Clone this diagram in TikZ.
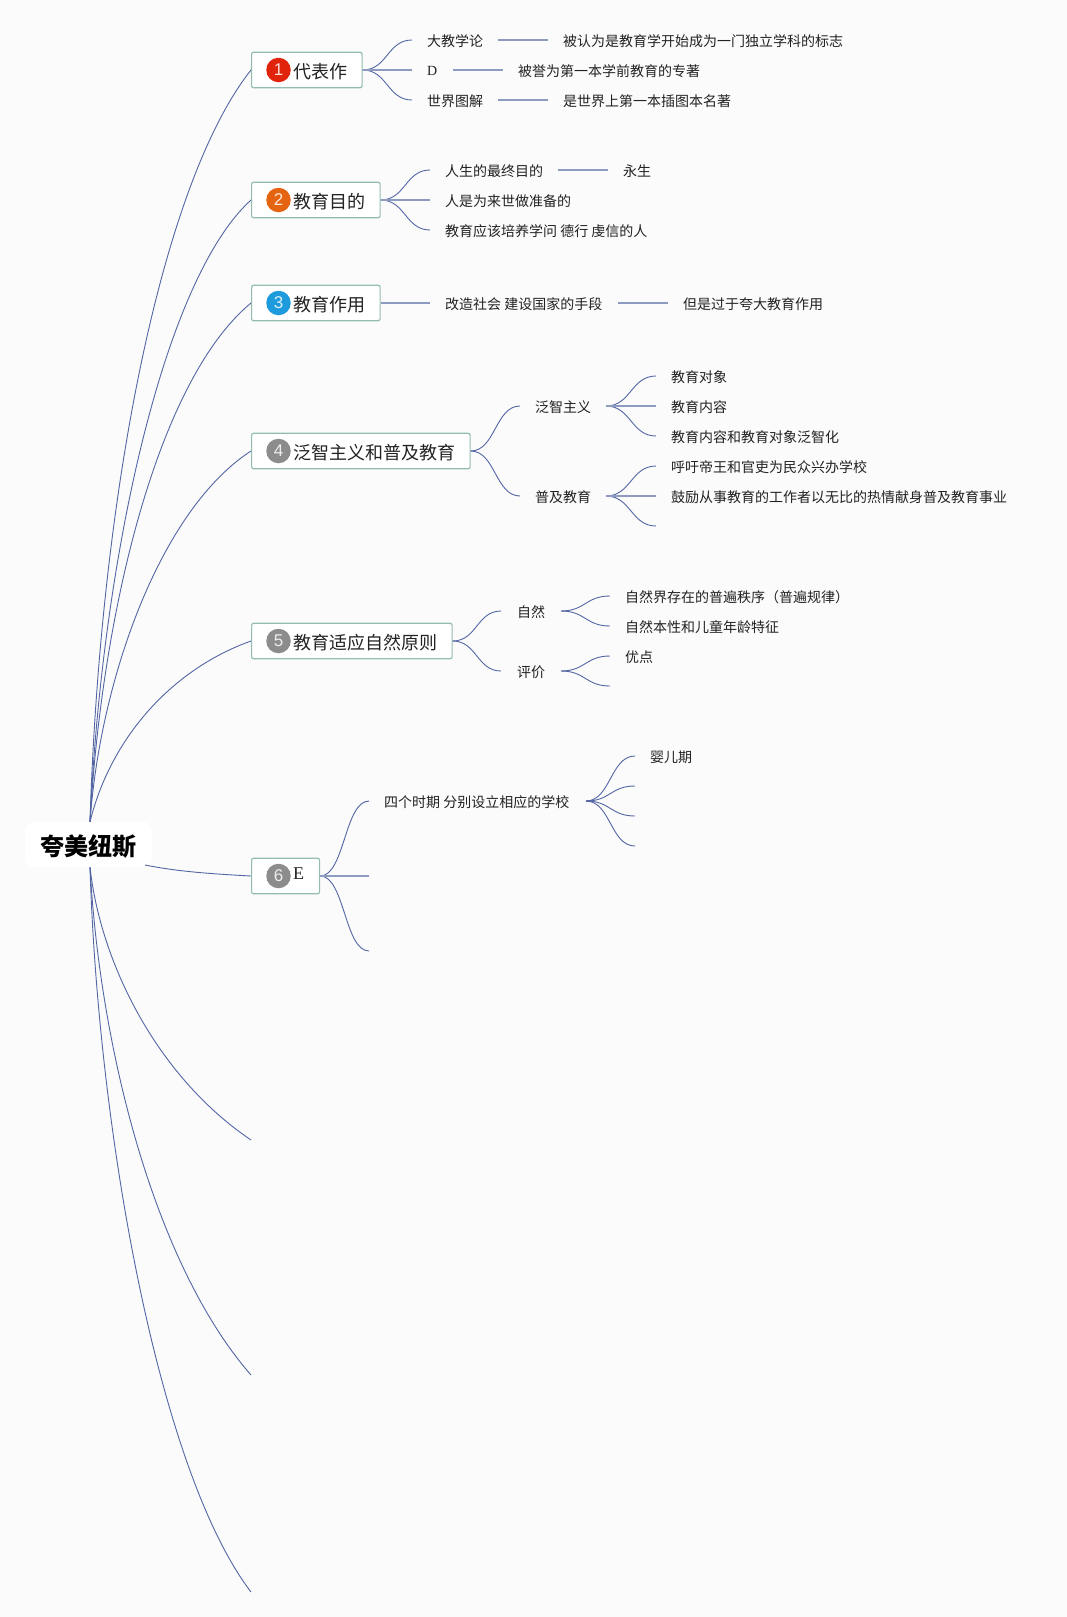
\documentclass[tikz,border=0pt]{standalone}
\usepackage{fontspec}
\usetikzlibrary{calc}
\setmainfont{Liberation Serif}
\newfontfamily\cjk{Noto Sans CJK SC}
\definecolor{bgc}{HTML}{FBFBFC}
\definecolor{linec}{HTML}{5366A3}
\definecolor{flatc}{HTML}{8E9BC0}
\definecolor{boxc}{HTML}{93BDAF}
\definecolor{txtc}{HTML}{222222}
\tikzset{
  topicbox/.style={draw=boxc,fill=white,line width=1.2pt,rounded corners=2pt,minimum height=35.5pt,inner sep=0pt,anchor=west},
  toptext/.style={font=\fontsize{18}{18}\selectfont\cjk,text=txtc,inner sep=0pt,anchor=west,yshift=-2pt},
  leaf/.style={font=\fontsize{14}{14}\selectfont\cjk,text=txtc,inner sep=0pt,anchor=west,yshift=-1.2pt},
  latin/.style={font=\fontsize{14}{14}\selectfont,text=txtc,inner sep=0pt,anchor=west,yshift=-1.2pt},
  badge/.style={circle,minimum size=24.5pt,inner sep=0pt,text=white,text opacity=0.85,font=\fontsize{17}{17}\selectfont\fontspec{Liberation Sans}},
  rootnode/.style={fill=white,rounded corners=9pt,minimum width=127pt,minimum height=45pt,inner sep=0pt,font=\fontsize{24}{24}\selectfont\cjk\bfseries,text=black},
  curve/.style={draw=linec,line width=0.9pt},
  flat/.style={draw=flatc,line width=1.2pt},
}
\newcommand{\scurve}[2]{\draw[curve] (#1) .. controls ($(#1)!0.5!(#2|-#1)$) and ($(#2)!0.5!(#1|-#2)$) .. (#2);}
\begin{document}
\begin{tikzpicture}[x=1pt,y=-1pt]
\useasboundingbox[fill=bgc] (0,0) rectangle (1067,1617);

% tips
\coordinate (rootT) at (90,822);
\coordinate (rootB) at (90,867);
\coordinate (rootE) at (145,865);
\coordinate (t7) at (251,1140);
\coordinate (t8) at (251,1375);
\coordinate (t9) at (251,1592);

% topic boxes
\node[topicbox,minimum width=110.5pt] (b1) at (251,70) {};
\node[topicbox,minimum width=128.5pt] (b2) at (251,200) {};
\node[topicbox,minimum width=128.5pt] (b3) at (251,303) {};
\node[topicbox,minimum width=218.5pt] (b4) at (251,451) {};
\node[topicbox,minimum width=200.5pt] (b5) at (251,641) {};
\node[topicbox,minimum width=68pt] (b6) at (251,876) {};

% main curves
\draw[curve] (rootT) .. controls (100,500) and (160,185) .. (b1.west);
\draw[curve] (rootT) .. controls (102,560) and (163,280) .. (b2.west);
\draw[curve] (rootT) .. controls (102,610) and (158,380) .. (b3.west);
\draw[curve] (rootT) .. controls (100,680) and (160,510) .. (b4.west);
\draw[curve] (rootT) .. controls (110,740) and (170,670) .. (b5.west);
\draw[curve] (rootB) .. controls (100,960) and (155,1075) .. (t7);
\draw[curve] (rootB) .. controls (100,1050) and (155,1265) .. (t8);
\draw[curve] (rootB) .. controls (98,1130) and (158,1470) .. (t9);

% root
\node[rootnode] (root) at (88.5,844.5) {\raisebox{-11pt}[0pt][0pt]{夸美纽斯}};
\draw[curve] (rootE) .. controls (180,872) and (215,874) .. (b6.west);

% badges and titles
\node[badge,fill={rgb,255:red,224;green,35;blue,10}] (n1) at (278.5,70) {1};
\node[badge,fill={rgb,255:red,229;green,100;blue,18}] (n2) at (278.5,200) {2};
\node[badge,fill={rgb,255:red,30;green,155;blue,220}] (n3) at (278.5,303) {3};
\node[badge,fill={rgb,255:red,140;green,140;blue,140}] (n4) at (278.5,451) {4};
\node[badge,fill={rgb,255:red,140;green,140;blue,140}] (n5) at (278.5,641) {5};
\node[badge,fill={rgb,255:red,140;green,140;blue,140}] (n6) at (278.5,876) {6};
\node[toptext] (h1) at (293,70) {代表作};
\node[toptext] (h2) at (293,200) {教育目的};
\node[toptext] (h3) at (293,303) {教育作用};
\node[toptext] (h4) at (293,451) {泛智主义和普及教育};
\node[toptext] (h5) at (293,641) {教育适应自然原则};
\node[latin,font=\fontsize{18}{18}\selectfont] (h6) at (293,872) {E};

% branch 1
\coordinate (c1a) at (412,40); \coordinate (c1b) at (412,70); \coordinate (c1c) at (412,100);
\scurve{b1.east}{c1a}\scurve{b1.east}{c1c}\draw[flat] (b1.east) -- (c1b);
\node[leaf] (l1a) at (427,40) {大教学论};
\node[latin] (l1b) at (427,70) {D};
\node[leaf] (l1c) at (427,100) {世界图解};
\coordinate (s1a) at (498,40); \coordinate (e1a) at (548,40);
\coordinate (s1b) at (453,70); \coordinate (e1b) at (503,70);
\coordinate (s1c) at (498,100); \coordinate (e1c) at (548,100);
\draw[flat] (s1a) -- (e1a); \draw[flat] (s1b) -- (e1b); \draw[flat] (s1c) -- (e1c);
\node[leaf] (r1a) at (563,40) {被认为是教育学开始成为一门独立学科的标志};
\node[leaf] (r1b) at (518,70) {被誉为第一本学前教育的专著};
\node[leaf] (r1c) at (563,100) {是世界上第一本插图本名著};

% branch 2
\coordinate (c2a) at (430,170); \coordinate (c2b) at (430,200); \coordinate (c2c) at (430,230);
\scurve{b2.east}{c2a}\scurve{b2.east}{c2c}\draw[flat] (b2.east) -- (c2b);
\node[leaf] (l2a) at (445,170) {人生的最终目的};
\node[leaf] (l2b) at (445,200) {人是为来世做准备的};
\node[leaf] (l2c) at (445,230) {教育应该培养学问 德行 虔信的人};
\coordinate (s2a) at (558,170); \coordinate (e2a) at (608,170);
\draw[flat] (s2a) -- (e2a);
\node[leaf] (r2a) at (623,170) {永生};

% branch 3
\coordinate (c3a) at (430,303);
\draw[flat] (b3.east) -- (c3a);
\node[leaf] (l3a) at (445,303) {改造社会 建设国家的手段};
\coordinate (s3a) at (618,303); \coordinate (e3a) at (668,303);
\draw[flat] (s3a) -- (e3a);
\node[leaf] (r3a) at (683,303) {但是过于夸大教育作用};

% branch 4
\coordinate (c4a) at (520,406); \coordinate (c4b) at (520,496);
\scurve{b4.east}{c4a}\scurve{b4.east}{c4b}
\node[leaf] (l4a) at (535,406) {泛智主义};
\node[leaf] (l4b) at (535,496) {普及教育};
\coordinate (s4a) at (606,406); \coordinate (s4b) at (606,496);
\coordinate (d4a) at (656,376); \coordinate (d4b) at (656,406); \coordinate (d4c) at (656,436);
\coordinate (d4d) at (656,466); \coordinate (d4e) at (656,496); \coordinate (d4f) at (656,526);
\scurve{s4a}{d4a}\scurve{s4a}{d4c}\draw[flat] (s4a) -- (d4b);
\scurve{s4b}{d4d}\scurve{s4b}{d4f}\draw[flat] (s4b) -- (d4e);
\node[leaf] (r4a) at (671,376) {教育对象};
\node[leaf] (r4b) at (671,406) {教育内容};
\node[leaf] (r4c) at (671,436) {教育内容和教育对象泛智化};
\node[leaf] (r4d) at (671,466) {呼吁帝王和官吏为民众兴办学校};
\node[leaf] (r4e) at (671,496) {鼓励从事教育的工作者以无比的热情献身普及教育事业};

% branch 5
\coordinate (c5a) at (501,611); \coordinate (c5b) at (501,671);
\scurve{b5.east}{c5a}\scurve{b5.east}{c5b}
\node[leaf] (l5a) at (517,611) {自然};
\node[leaf] (l5b) at (517,671) {评价};
\coordinate (s5a) at (561,611); \coordinate (s5b) at (561,671);
\coordinate (d5a) at (610,596); \coordinate (d5b) at (610,626);
\coordinate (d5c) at (610,656); \coordinate (d5d) at (610,686);
\scurve{s5a}{d5a}\scurve{s5a}{d5b}\scurve{s5b}{d5c}\scurve{s5b}{d5d}
\node[leaf] (r5a) at (625,596) {自然界存在的普遍秩序（普遍规律）};
\node[leaf] (r5b) at (625,626) {自然本性和儿童年龄特征};
\node[leaf] (r5c) at (625,656) {优点};

% branch 6
\coordinate (c6a) at (369,801); \coordinate (c6b) at (369,876); \coordinate (c6c) at (369,951);
\scurve{b6.east}{c6a}\scurve{b6.east}{c6c}\draw[flat] (b6.east) -- (c6b);
\node[leaf] (l6a) at (384,801) {四个时期 分别设立相应的学校};
\coordinate (s6a) at (586,801);
\coordinate (d6a) at (635,756); \coordinate (d6b) at (635,786); \coordinate (d6c) at (635,816); \coordinate (d6d) at (635,846);
\scurve{s6a}{d6a}\scurve{s6a}{d6b}\scurve{s6a}{d6c}\scurve{s6a}{d6d}
\node[leaf] (r6a) at (650,756) {婴儿期};
\end{tikzpicture}
\end{document}
